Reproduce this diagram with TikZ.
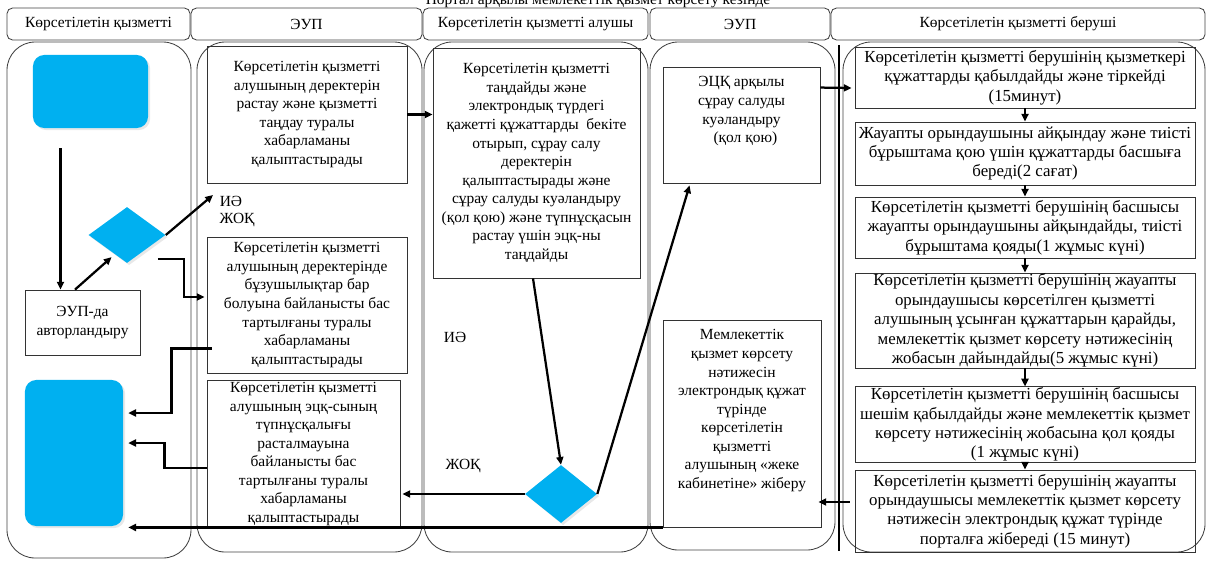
\documentclass[tikz,border=0pt]{standalone}
\usepackage{fontspec}
\setmainfont{Liberation Serif}
\usepackage{tikz}
\usetikzlibrary{shapes.geometric, arrows.meta, calc, shadows}
\definecolor{skyblue}{RGB}{0,176,240}
\tikzstyle{arrow} = [line width=1.6pt, -{Triangle[length=5.5pt,width=5pt]}]

\begin{document}
\begin{tikzpicture}[x=0.025cm, y=-0.025cm,
    font=\fontsize{11}{13.2}\selectfont,
    head/.style={draw=black!75, line width=0.6pt, rounded corners=4pt, minimum height=0.8cm, inner sep=1pt},
    lane/.style={draw=black!75, line width=0.6pt, rounded corners=20pt},
    box/.style={draw=black!80, line width=0.6pt, align=center, inner sep=1pt},
    stage/.style={box, minimum width=8.5cm, inner sep=0.5pt, font=\fontsize{12}{13.8}\selectfont},
    toptext/.style={box, label={[anchor=north, align=center, inner sep=0pt, yshift=-7pt]north:{#1}}},
    term/.style={fill=skyblue, rounded corners=8pt, drop shadow={shadow xshift=1.5pt, shadow yshift=-1.5pt, fill=gray!35}},
    decision/.style={diamond, fill=skyblue, inner sep=0pt, drop shadow={shadow xshift=1.5pt, shadow yshift=-1.5pt, fill=gray!35}},
]
\useasboundingbox (0,0) rectangle (1209,561);

% Title (cut at the top edge)
\node[anchor=base] (title) at (598,4) {Портал арқылы мемлекеттік қызмет көрсету кезінде};

% Lane headers
\node[head, minimum width=4.575cm] (h1) at (98.5,24) {Көрсетілетін қызметті};
\node[head, minimum width=5.775cm] (h2) at (306.5,24) {ЭУП};
\node[head, minimum width=5.625cm] (h3) at (535.5,24) {Көрсетілетін қызметті алушы};
\node[head, minimum width=4.5cm] (h4) at (740,24) {ЭУП};
\node[head, minimum width=9.35cm] (h5) at (1018,24) {Көрсетілетін қызметті беруші};

% Lanes
\draw[lane] (7,42) rectangle (191,558);
\draw[lane] (197,42) rectangle (422,552);
\draw[lane] (424,42) rectangle (648,552);
\draw[lane] (650,42) rectangle (835,550);
\draw[lane] (843,42) rectangle (1205,552);

% Service recipient lane
\node[term, minimum width=2.875cm, minimum height=1.825cm] (start) at (90.5,91.5) {};
\node[box, minimum width=2.875cm, minimum height=1.625cm] (auth) at (82.5,322.5) {ЭУП-да\\авторландыру};
\node[decision, minimum width=1.925cm, minimum height=1.4cm] (dec1) at (127,235) {};
\node[term, minimum width=2.45cm, minimum height=3.65cm] (end) at (74,453) {};

% Portal lane
\node[box, minimum width=5cm, minimum height=3.425cm] (msg1) at (307,114.5) {Көрсетілетін қызметті\\алушының деректерін\\растау және қызметті\\таңдау туралы\\хабарламаны\\қалыптастырады};
\node (yes1) at (231,201) {ИӘ};
\node (no1) at (237,220) {ЖОҚ};
\node[box, minimum width=5cm, minimum height=3.4cm] (rej1) at (307,305) {Көрсетілетін қызметті\\алушының деректерінде\\бұзушылықтар бар\\болуына байланысты бас\\тартылғаны туралы\\хабарламаны\\қалыптастырады};
\node[box, minimum width=4.825cm, minimum height=3.6cm] (rej2) at (303.5,454) {Көрсетілетін қызметті\\алушының эцқ-сының\\түпнұсқалығы\\расталмауына\\байланысты бас\\тартылғаны туралы\\хабарламаны\\қалыптастырады};

% Recipient lane
\node[box, minimum width=5.175cm, minimum height=5.75cm] (sel) at (536.5,163) {Көрсетілетін қызметті\\таңдайды және\\электрондық түрдегі\\қажетті құжаттарды~ бекіте\\отырып, сұрау салу\\деректерін\\қалыптастырады және\\сұрау салуды куәландыру\\(қол қою) және түпнұсқасын\\растау үшін эцқ-ны\\таңдайды};
\node (yes2) at (455,337) {ИӘ};
\node (no2) at (463,466) {ЖОҚ};
\node[decision, minimum width=1.8cm, minimum height=1.45cm] (dec2) at (561,494) {};

% Portal lane (right)
\node[toptext={ЭЦҚ арқылы\\сұрау салуды\\куәландыру\\~~(қол қою)}, minimum width=3.925cm, minimum height=2.9cm] (sign) at (741.5,125) {};
\node[toptext={Мемлекеттік\\қызмет көрсету\\нәтижесін\\электрондық құжат\\түрінде\\көрсетілетін\\қызметті\\алушының «жеке\\кабинетіне» жіберу}, minimum width=3.95cm, minimum height=5.175cm] (mem) at (742,423.5) {};

% Service provider lane
\node[stage, minimum height=1.525cm] (b1) at (1025,77.5) {Көрсетілетін қызметті берушінің қызметкері\\құжаттарды қабылдайды және тіркейді\\(15минут)};
\node[stage, minimum height=1.575cm] (b2) at (1025,153.5) {Жауапты орындаушыны айқындау және тиісті\\бұрыштама қою үшін құжаттарды басшыға\\береді(2 сағат)};
\node[stage, minimum height=1.525cm] (b3) at (1025,227.5) {Көрсетілетін қызметті берушінің басшысы\\жауапты орындаушыны айқындайды, тиісті\\бұрыштама қояды(1 жұмыс күні)};
\node[stage, minimum height=2.375cm] (b4) at (1025,320.5) {Көрсетілетін қызметті берушінің жауапты\\орындаушысы көрсетілген қызметті\\алушының ұсынған құжаттарын қарайды,\\мемлекеттік қызмет көрсету нәтижесінің\\жобасын дайындайды(5 жұмыс күні)};
\node[stage, minimum height=1.875cm] (b5) at (1025,424.5) {Көрсетілетін қызметті берушінің басшысы\\шешім қабылдайды және мемлекеттік қызмет\\көрсету нәтижесінің жобасына қол қояды\\(1 жұмыс күні)};
\node[stage, minimum height=2.05cm] (b6) at (1025,511) {Көрсетілетін қызметті берушінің жауапты\\орындаушысы мемлекеттік қызмет көрсету\\нәтижесін электрондық құжат түрінде\\порталға жібереді (15 минут)};

% Connectors
\coordinate (yestip) at (213,195);
\draw[arrow] ($(start.south)+(-30,20)$) -- ($(auth.north)+(-22,0)$);
\draw[arrow] ($(auth.north)+(-7.5,0)$) -- ($(dec1.south west)+(4,8)$);
\draw[arrow] (dec1.east) -- (yestip);
\draw[arrow] ($(dec1.east)+(-8,24)$) -- ++(26,0) |- ($(rej1.west)+(-2,-8)$);
\draw[arrow] (msg1.east) -- (sel.west |- msg1.east);
\draw[arrow] ($(sel.south)+(-3.5,0)$) -- (dec2.north);
\draw[arrow] (dec2.east) -- ($(sign.south west)+(27,2)$);
\draw[arrow] (dec2.west) -- ($(rej2.east |- dec2.west)+(2,0)$);
\draw[arrow] ($(rej1.south west)+(5,-25)$) -- ++(-40,0) |- ($(end.east)+(5,-40)$);
\draw[arrow] ($(rej2.west)+(0,14)$) -- ++(-42,0) |- ($(end.east)+(5,-10)$);
\draw[arrow] (mem.south west) -- ($(end.east |- mem.south west)+(5,0)$);
\draw[arrow] ($(sign.north east)+(0,21)$) -- ($(b1.west)+(-3,10.5)$);
\foreach \i/\j in {b1/b2, b2/b3, b3/b4, b4/b5, b5/b6} {
    \draw[arrow] (\i) -- (\j);
}
\draw[arrow] ($(b6.west)+(-5,-9)$) -- ($(mem.east |- b6.west)+(-3,-9)$);

% Vertical rule between the right lanes
\coordinate (vtop) at (839,45);
\coordinate (vbot) at (839,551);
\draw[line width=1.4pt] (vtop) -- (vbot);

\end{tikzpicture}
\end{document}
